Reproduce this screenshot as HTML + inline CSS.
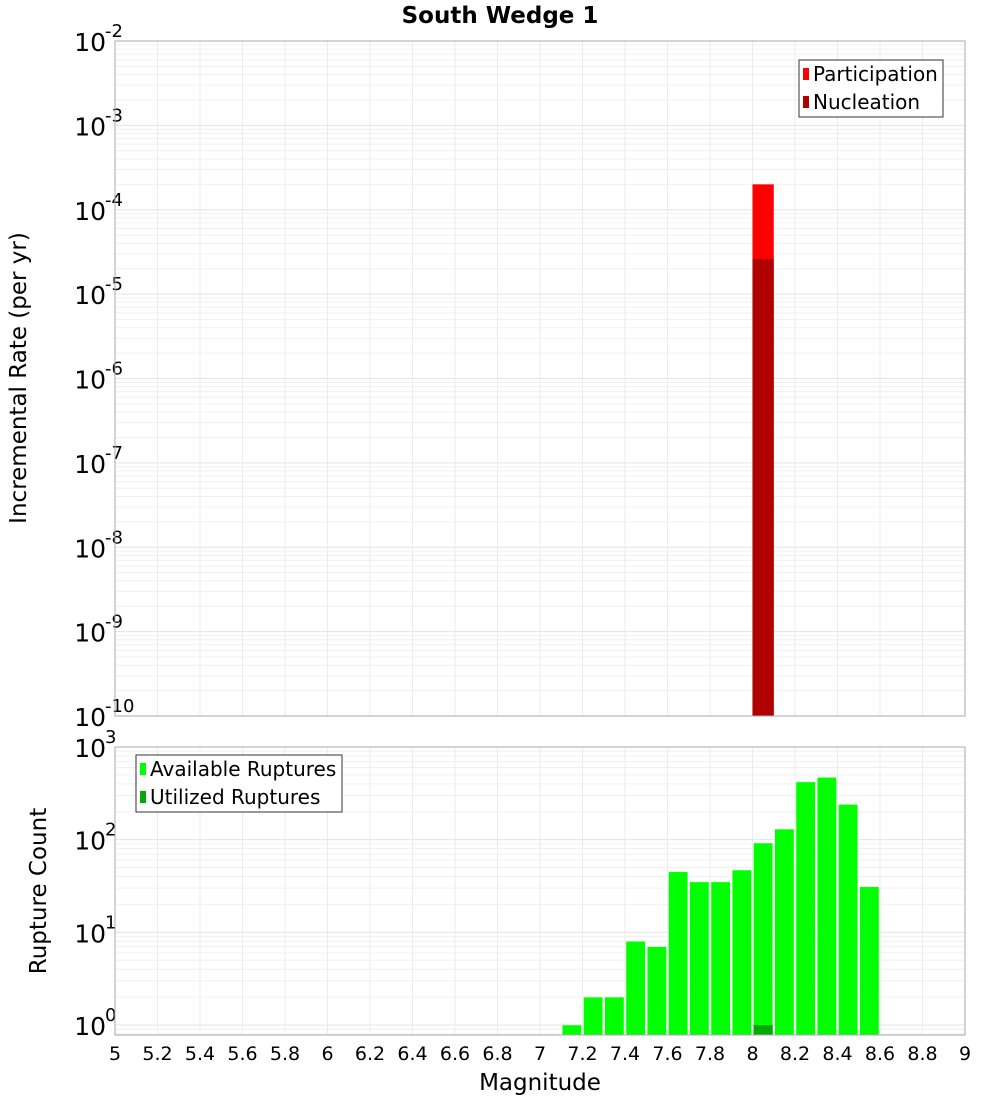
<!DOCTYPE html>
<html><head><meta charset="utf-8"><style>
body{margin:0;background:#fff}
svg text{font-family:"DejaVu Sans","Liberation Sans",sans-serif}
</style></head><body>
<svg id="c" width="1000" height="1100" xmlns="http://www.w3.org/2000/svg">
<text x="500" y="23" text-anchor="middle" font-size="23" font-weight="bold">South Wedge 1</text>
<g id="top"></g><g id="bot"></g>
<text transform="translate(26,378) rotate(-90)" text-anchor="middle" font-size="23">Incremental Rate (per yr)</text>
<text transform="translate(46,891) rotate(-90)" text-anchor="middle" font-size="23">Rupture Count</text>
<text x="540" y="1090" text-anchor="middle" font-size="23">Magnitude</text>
</svg>
<script>
const binStarts=[8.0];
const participation=[2.0e-4];
const nucleation=[2.6e-5];
const rupBins=[7.1,7.2,7.3,7.4,7.5,7.6,7.7,7.8,7.9,8.0,8.1,8.2,8.3,8.4,8.5];
const available=[1,2,2,8,7,45,35,35,47,92,130,420,470,240,31];
const utilBins=[8.0];
const utilized=[1];
const xTicks=[5,5.2,5.4,5.6,5.8,6,6.2,6.4,6.6,6.8,7,7.2,7.4,7.6,7.8,8,8.2,8.4,8.6,8.8,9];
const topDecades=[-2,-3,-4,-5,-6,-7,-8,-9,-10];
const botDecades=[3,2,1,0];

const NS="http://www.w3.org/2000/svg";
const X0=115,X1=965;
const xs=m=>X0+(m-5)/4*(X1-X0);
function el(p,t,a){const e=document.createElementNS(NS,t);for(const k in a)e.setAttribute(k,a[k]);p.appendChild(e);return e;}
function panel(g,top,bot,lmax,lmin,decades,name){
  const ys=v=>top+(lmax-Math.log10(v))/(lmax-lmin)*(bot-top);
  const r=el(g,'rect',{x:X0,y:top,width:X1-X0,height:bot-top,fill:'#fff',stroke:'none'});
  
  for(let d=Math.floor(lmin);d<lmax;d++)for(let k=1;k<10;k++){
    const v=k*Math.pow(10,d);const lv=Math.log10(v);if(lv<lmin||lv>lmax)continue;
    const y=ys(v);const l=el(g,'line',{x1:X0,x2:X1,y1:y,y2:y,stroke:k==1?'#e4e4e4':'#f0f0f0','stroke-width':1});
    }
  xTicks.forEach(t=>{const x=xs(t);const l=el(g,'line',{x1:x,x2:x,y1:top,y2:bot,stroke:'#ebebeb'});
    });
  decades.forEach(d=>{const y=ys(Math.pow(10,d));
    const t=el(g,'text',{x:106,y:y+10,'text-anchor':'end','font-size':25});t.textContent='10';
    
    const s=el(g,'text',{x:105,y:y-4,'font-size':18});s.textContent=String(d);
    });
  return ys;
}
const gt=document.getElementById('top'),gb=document.getElementById('bot');
const ysT=panel(gt,41,716,-2,-10,topDecades,'top');
const ysB=panel(gb,747,1035,3,-0.108,botDecades,'bottom');
binStarts.forEach((b,i)=>{
  const x=xs(b),w=xs(b+0.1)-x;
  let y=ysT(participation[i]);
  let r=el(gt,'rect',{x:x,y:y,width:w,height:716-y,fill:'#ff0000'});
  
  y=ysT(nucleation[i]);
  r=el(gt,'rect',{x:x,y:y,width:w,height:716-y,fill:'#b00000'});
  
});
rupBins.forEach((b,i)=>{
  const x=xs(b),w=xs(b+0.1)-x;const y=ysB(available[i]);
  const r=el(gb,'rect',{x:x+1,y:y,width:w-2,height:1035-y,fill:'#00ff00',stroke:'#ddffdd','stroke-width':0.5});
  
});
utilBins.forEach((b,i)=>{
  const x=xs(b),w=xs(b+0.1)-x;const y=ysB(utilized[i]);
  const r=el(gb,'rect',{x:x+1,y:y,width:w-2,height:1035-y,fill:'#00aa00'});
  
});
[[gt,41,716,'top'],[gb,747,1035,'bottom']].forEach(([g,t,b,n])=>{
  const r=el(g,'rect',{x:X0,y:t,width:X1-X0,height:b-t,fill:'none',stroke:'#aaaaaa'});
  });
xTicks.forEach(t=>{const e=el(gb,'text',{x:xs(t),y:1060,'text-anchor':'middle','font-size':19});e.textContent=String(t);
  });
function legend(g,x,y,w,items,name){
  const b=el(g,'rect',{x:x,y:y,width:w,height:57,fill:'#fff',stroke:'#333'});
  
  items.forEach((it,i)=>{const cy=y+14+i*28;
    const s=el(g,'rect',{x:x+4,y:cy-6,width:6,height:12,fill:it[1]});
    
    const t=el(g,'text',{x:x+14,y:cy+7,'font-size':20});t.textContent=it[0];
    });
}
legend(gt,799,60,144,[['Participation','#ff0000'],['Nucleation','#b00000']],'top-legend');
legend(gb,136,755,206,[['Available Ruptures','#00ff00'],['Utilized Ruptures','#00aa00']],'bottom-legend');
</script>
</body></html>
